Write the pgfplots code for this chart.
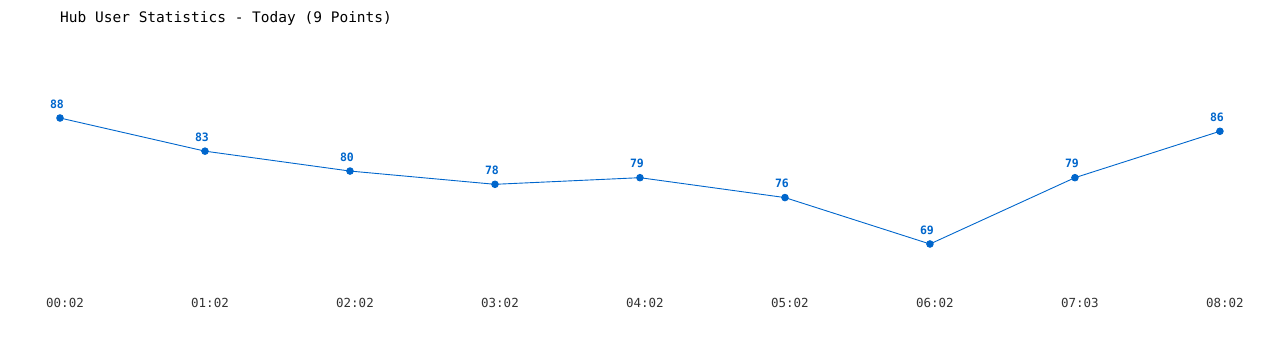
\documentclass[border=0pt]{standalone}
\usepackage{pgfplots}
\pgfplotsset{compat=1.18}
\usepackage{fontspec}
\setmainfont{DejaVu Sans Mono}
\setmonofont{DejaVu Sans Mono}
\definecolor{lineblue}{HTML}{0066CC}
\begin{document}
\begin{tikzpicture}[x=1pt,y=1pt]
\path[use as bounding box] (0,0) rectangle (1280,350);
\node[anchor=west,inner sep=0pt,font=\fontsize{14.5}{16}\selectfont] at (60,331) {Hub User Statistics - Today (9 Points)};
\begin{axis}[
  at={(60pt,106pt)}, anchor=south west,
  scale only axis, width=1160pt, height=126pt,
  xmin=0, xmax=8, ymin=69, ymax=88,
  clip=false,
  axis line style={draw=none},
  major tick length=0pt,
  ymajorticks=false,
  xtick={0,...,8},
  xticklabels={00:02,01:02,02:02,03:02,04:02,05:02,06:02,07:03,08:02},
  xticklabel style={font=\fontsize{12.5}{14}\selectfont, color=black!80, anchor=center, yshift=-59pt, xshift=5pt},
  /pgf/number format/assume math mode=true,
  nodes near coords,
  every node near coord/.append style={font=\bfseries\fontsize{11.5}{12}\selectfont, color=lineblue, anchor=center, yshift=14pt, xshift=-3pt},
]
\addplot[color=lineblue, line width=0.9pt, mark=*, mark size=3.3pt, mark options={fill=lineblue,draw=lineblue}]
coordinates {(0,88) (1,83) (2,80) (3,78) (4,79) (5,76) (6,69) (7,79) (8,86)};
\end{axis}
\end{tikzpicture}
\end{document}
